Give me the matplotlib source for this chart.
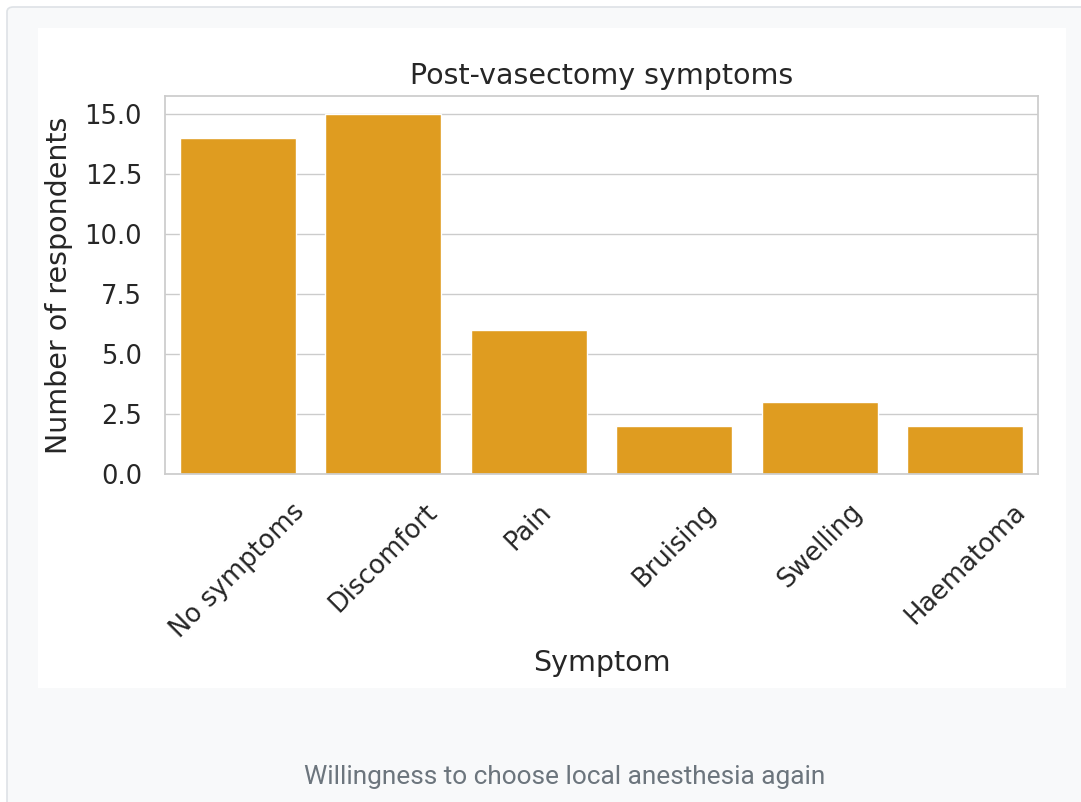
import matplotlib
matplotlib.use("Agg")
import matplotlib.pyplot as plt
import seaborn as sns
from matplotlib.patches import Rectangle, FancyBboxPatch
from matplotlib.ticker import MultipleLocator, FormatStrFormatter

symptoms = ["No symptoms", "Discomfort", "Pain", "Bruising", "Swelling", "Haematoma"]
counts = [14, 15, 6, 2, 3, 2]

sns.set_theme(style="whitegrid")
plt.rcParams['font.family'] = ['DejaVu Sans']

fig = plt.figure(figsize=(10.81, 8.02), dpi=100)
fig.patch.set_facecolor("white")

# page panel (runs off the right and bottom edges) and white plot card
fig.patches.append(FancyBboxPatch((7 / 1081, -10 / 802), 1090 / 1081, 805 / 802,
                                  boxstyle="round,pad=0,rounding_size=0.006",
                                  transform=fig.transFigure, facecolor="#f8f9fa",
                                  edgecolor="#dee2e6", linewidth=1.2, zorder=-2))
fig.patches.append(Rectangle((38 / 1081, 1 - 688 / 802), 1028 / 1081, 660 / 802,
                             transform=fig.transFigure, facecolor="white",
                             edgecolor="none", zorder=-1))

ax = fig.add_axes([165 / 1081, 1 - 474 / 802, 873 / 1081, 378 / 802])
ax.set_zorder(1)
sns.barplot(x=symptoms, y=counts, color="orange", ax=ax)
ax.set_facecolor("white")
ax.yaxis.set_major_locator(MultipleLocator(2.5))
ax.yaxis.set_major_formatter(FormatStrFormatter("%.1f"))
ax.set_ylim(0, 15.75)
ax.set_title("Post-vasectomy symptoms", fontsize=20.5, pad=9)
ax.set_xlabel("Symptom", fontsize=20.5, labelpad=4)
ax.set_ylabel("Number of respondents", fontsize=20.5, labelpad=8)
ax.tick_params(axis="both", labelsize=18.5, colors="#262626")
ax.tick_params(axis="x", pad=12)
ax.tick_params(axis="y", pad=10.5)
plt.setp(ax.get_xticklabels(), rotation=45)

fig.text(565 / 1081, 1 - 777 / 802, "Willingness to choose local anesthesia again",
         ha="center", va="center", fontsize=18.9, color="#6c757d", family=["Roboto"])

fig.savefig("out.png", dpi=100, facecolor=fig.get_facecolor())
